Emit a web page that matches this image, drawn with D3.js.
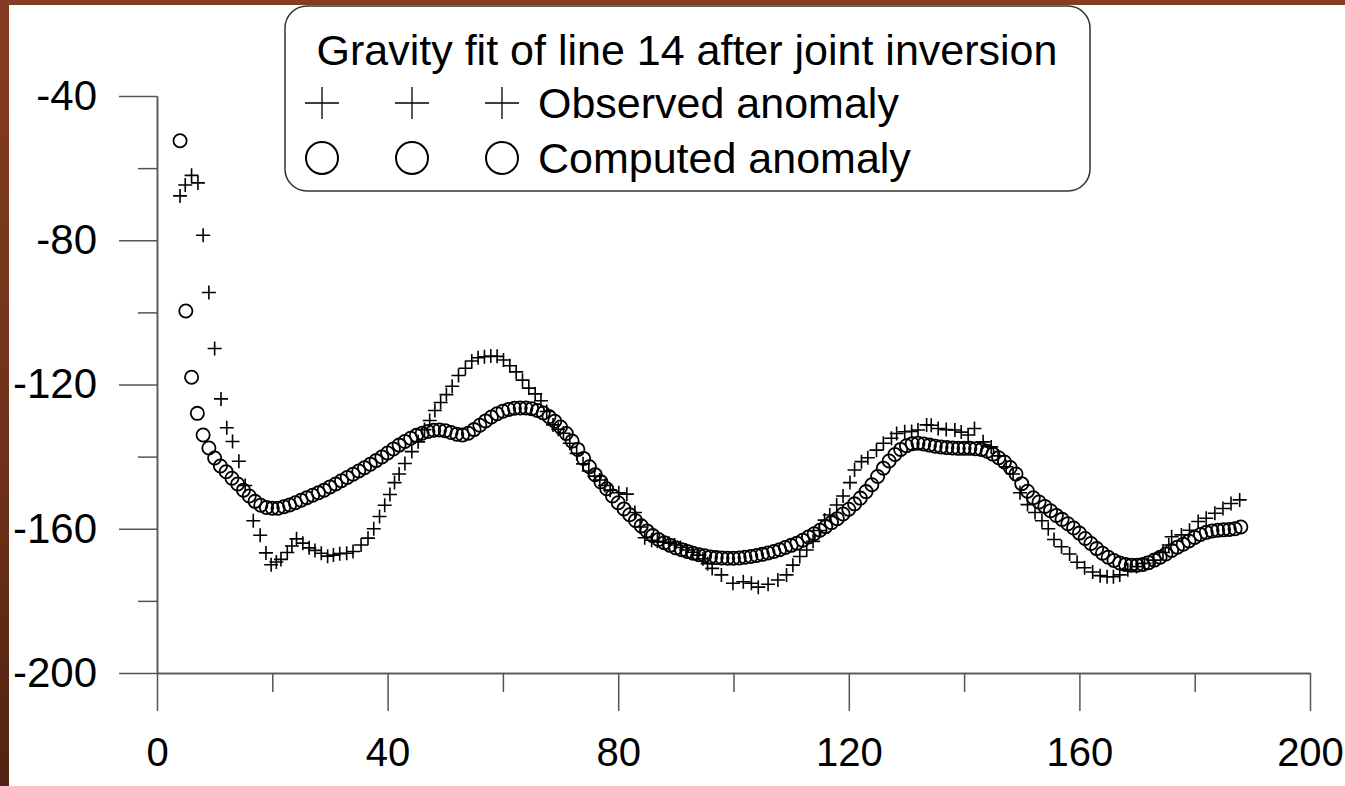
<!DOCTYPE html>
<html>
<head>
<meta charset="utf-8">
<script src="https://cdn.jsdelivr.net/npm/d3@7"></script>
<style>
  body { margin: 0; background: #fff; }
  text { font-family: "Liberation Sans", Arial, sans-serif; }
</style>
</head>
<body>
<script>
const compX = [4,5,6,7,8,9,10,11,12,13,14,15,16,17,18,19,20,21,22,23,24,25,26,27,28,29,30,31,32,33,34,35,36,37,38,39,40,41,42,43,44,45,46,47,48,49,50,51,52,53,54,55,56,57,58,59,60,61,62,63,64,65,66,67,68,69,70,71,72,73,74,75,76,77,78,79,80,81,82,83,84,85,86,87,88,89,90,91,92,93,94,95,96,97,98,99,100,101,102,103,104,105,106,107,108,109,110,111,112,113,114,115,116,117,118,119,120,121,122,123,124,125,126,127,128,129,130,131,132,133,134,135,136,137,138,139,140,141,142,143,144,145,146,147,148,149,150,151,152,153,154,155,156,157,158,159,160,161,162,163,164,165,166,167,168,169,170,171,172,173,174,175,176,177,178,179,180,181,182,183,184,185,186,187,188];
const compY = [-52.4,-99.6,-118,-128,-134,-137.6,-140.4,-142.6,-144.2,-146,-147.6,-149.3,-150.9,-152.4,-153.5,-154.1,-154.3,-154.3,-153.9,-153.4,-152.8,-152.1,-151.4,-150.7,-150,-149.3,-148.4,-147.6,-146.7,-145.8,-144.9,-144,-143.1,-142.1,-141.1,-140.1,-139,-137.9,-136.8,-135.8,-134.9,-134.1,-133.5,-133,-132.7,-132.6,-132.8,-133.3,-133.8,-134,-133.5,-132.5,-131.3,-130.1,-129,-128.1,-127.4,-126.9,-126.6,-126.5,-126.5,-126.7,-127.2,-127.9,-128.9,-130.2,-131.8,-133.6,-135.7,-138,-140.5,-142.8,-145,-147,-148.9,-150.9,-152.8,-154.5,-156.1,-157.7,-159.2,-160.6,-161.9,-163,-163.9,-164.6,-165.3,-165.8,-166.3,-166.8,-167.2,-167.5,-167.8,-168,-168.1,-168.2,-168.2,-168.1,-167.9,-167.7,-167.4,-167.1,-166.7,-166.3,-165.8,-165.2,-164.6,-164,-163.2,-162.3,-161.4,-160.4,-159.4,-158.3,-157.2,-155.9,-154.6,-153.1,-151.5,-149.7,-147.8,-145.5,-143.2,-141.2,-139.4,-138,-137,-136.4,-136.3,-136.5,-136.8,-137.1,-137.3,-137.5,-137.6,-137.7,-137.7,-137.7,-137.8,-138,-138.5,-139.3,-140.3,-141.5,-143,-144.8,-147.5,-149.6,-151.4,-152.6,-153.8,-155,-156.3,-157.4,-158.6,-159.8,-161.2,-162.7,-164.1,-165.5,-166.8,-167.9,-168.8,-169.5,-169.9,-170.1,-170.1,-169.9,-169.4,-168.7,-167.9,-167,-166,-165.1,-164.3,-163.4,-162.4,-161.6,-161,-160.6,-160.4,-160.3,-160.2,-160,-159.5];

const obsX = [4.0,4.9,6.0,7.1,8.0,9.0,10.0,11.1,12.1,13.1,14.2,15.3,16.7,17.9,18.9,19.8,20.7,21.5,22.6,23.4,24.2,25.3,26.4,27.4,28.5,29.6,30.6,31.7,32.9,34.0,35.4,36.6,37.6,38.6,39.5,40.4,41.2,42.0,43.0,44.2,45.3,46.4,47.3,48.2,49.2,50.2,51.2,52.3,53.5,54.6,55.7,56.8,57.9,59.0,60.1,61.2,62.3,63.4,64.5,65.6,66.6,67.6,68.7,69.6,70.5,71.6,72.8,73.9,74.9,75.9,76.8,77.7,78.6,80.1,81.5,82.9,83.8,84.6,85.8,86.8,87.8,88.8,89.8,90.8,91.8,92.8,93.7,94.7,95.5,96.3,97.9,99.9,101.7,103.1,104.3,106.0,107.7,109.2,110.3,111.5,112.7,113.8,114.9,115.8,116.7,117.9,119.0,120.2,121.0,122.2,123.3,124.8,126.0,127.4,128.3,129.7,130.9,132.0,133.5,134.3,135.5,136.9,138.4,139.5,140.7,141.8,143.3,144.7,145.9,147.3,148.5,149.7,151.0,152.3,153.5,154.6,155.6,156.9,158.3,159.6,160.9,162.3,163.6,164.8,165.9,167.0,168.4,169.9,171.3,172.8,174.5,175.5,176.0,177.7,179.1,180.6,182.0,183.5,184.9,186.3,187.8];
const obsY = [-67.7,-64.7,-62.0,-64.1,-78.6,-94.5,-110.0,-124.0,-132.0,-135.8,-141.3,-148.0,-157.8,-161.8,-166.7,-170.0,-169.2,-168.5,-166.6,-164.8,-162.8,-164.0,-165.3,-166.0,-166.8,-167.6,-167.3,-166.9,-166.8,-166.3,-164.5,-162.6,-160.0,-156.6,-153.5,-150.5,-147.2,-144.8,-141.9,-138.6,-135.9,-132.5,-130.0,-127.2,-125.0,-122.8,-120.5,-117.5,-115.5,-113.5,-112.6,-112.3,-112.1,-112.2,-113.2,-114.8,-116.5,-118.8,-121.0,-122.6,-124.5,-127.5,-131.2,-132.4,-133.5,-136.3,-139.1,-142.0,-144.0,-145.4,-146.5,-148.0,-149.3,-150.0,-150.4,-155.5,-159.5,-162.5,-163.2,-163.5,-163.7,-164.0,-164.5,-165.2,-165.9,-166.5,-167.3,-168.3,-169.7,-171.0,-172.8,-175.1,-174.7,-175.1,-176.2,-175.4,-174.2,-172.8,-170.1,-167.7,-165.9,-163.5,-160.5,-157.6,-156.2,-153.4,-150.9,-147.2,-143.7,-141.4,-140.3,-138.2,-136.3,-134.9,-133.6,-133.1,-133.0,-132.6,-131.2,-131.3,-132.2,-132.5,-132.6,-133.2,-134.0,-132.2,-135.9,-137.3,-139.8,-142.8,-144.8,-150.0,-153.3,-155.5,-157.8,-160.0,-163.0,-165.0,-167.0,-169.3,-170.8,-172.0,-173.0,-173.3,-173.3,-172.8,-171.4,-170.5,-169.6,-168.7,-166.6,-164.5,-162.2,-161.7,-160.4,-158.0,-157.1,-155.7,-154.4,-153.0,-152.0];

const xTicks = [0, 40, 80, 120, 160, 200];
const xMinor = [20, 60, 100, 140, 180];
const yTicks = [-40, -80, -120, -160, -200];
const yMinor = [-60, -100, -140, -180];

const legendTitle = "Gravity fit of line 14 after joint inversion";
const seriesNames = ["Observed anomaly", "Computed anomaly"];

const svgWidth = 1345;
const svgHeight = 786;

const svg = d3.select("body")
    .append("svg")
    .attr("width", svgWidth)
    .attr("height", svgHeight);

const defs = svg.append("defs");
const grad = defs.append("linearGradient")
    .attr("id", "brown")
    .attr("x1", 0).attr("y1", 0).attr("x2", 0).attr("y2", 1);
grad.append("stop").attr("offset", "0%").attr("stop-color", "#843d22");
grad.append("stop").attr("offset", "60%").attr("stop-color", "#6e3119");
grad.append("stop").attr("offset", "100%").attr("stop-color", "#4f2312");

svg.append("rect")
    .attr("width", svgWidth)
    .attr("height", svgHeight)
    .attr("fill", "url(#brown)");

svg.append("rect")
    .attr("x", 9)
    .attr("y", 5)
    .attr("width", svgWidth - 9)
    .attr("height", svgHeight - 5)
    .attr("fill", "#ffffff");

const x = d3.scaleLinear().domain([0, 200]).range([157, 1310]);
const y = d3.scaleLinear().domain([-200, -40]).range([673, 96]);

const axisColor = "#555";

function styleAxis(size) {
    return g => {
        g.selectAll("path, line").attr("stroke", axisColor).attr("stroke-width", 1.5);
        g.selectAll("text")
            .attr("fill", "#000")
            .style("font-size", size + "px")
            .style("font-family", "'Liberation Sans', Arial, sans-serif");
    };
}

svg.append("g")
    .attr("transform", `translate(0, ${y(-200)})`)
    .call(d3.axisBottom(x).tickValues(xMinor).tickSize(19).tickSizeOuter(0).tickFormat(""))
    .call(styleAxis(40));

svg.append("g")
    .attr("transform", `translate(0, ${y(-200)})`)
    .call(d3.axisBottom(x).tickValues(xTicks).tickSize(38).tickSizeOuter(0).tickPadding(27).tickFormat(d3.format("d")))
    .call(styleAxis(40));

svg.append("g")
    .attr("transform", `translate(${x(0)}, 0)`)
    .call(d3.axisLeft(y).tickValues(yMinor).tickSize(19).tickSizeOuter(0).tickFormat(""))
    .call(styleAxis(42));

svg.append("g")
    .attr("transform", `translate(${x(0)}, 0)`)
    .call(d3.axisLeft(y).tickValues(yTicks).tickSize(38).tickSizeOuter(0).tickPadding(22).tickFormat(d => d3.format("d")(d).replace("−", "-")))
    .call(styleAxis(42));

const plus = (h, v) => `M${-h},0H${h}M0,${-v}V${v}`;

const observed = obsX.map((d, i) => ({x: d, y: obsY[i]}));
const computed = compX.map((d, i) => ({x: d, y: compY[i]}));

svg.append("g")
    .selectAll("path")
    .data(observed)
    .enter()
    .append("path")
    .attr("transform", d => `translate(${x(d.x)}, ${y(d.y)})`)
    .attr("d", plus(7, 7))
    .attr("stroke", "#000")
    .attr("stroke-width", 1.6)
    .attr("fill", "none");

svg.append("g")
    .selectAll("circle")
    .data(computed)
    .enter()
    .append("circle")
    .attr("cx", d => x(d.x))
    .attr("cy", d => y(d.y))
    .attr("r", 6.6)
    .attr("stroke", "#000")
    .attr("stroke-width", 1.8)
    .attr("fill", "none");

const legend = svg.append("g");

legend.append("rect")
    .attr("x", 285)
    .attr("y", 6)
    .attr("width", 805)
    .attr("height", 185)
    .attr("rx", 22)
    .attr("fill", "#fff")
    .attr("stroke", "#333")
    .attr("stroke-width", 1.5);

legend.append("text")
    .attr("x", 687)
    .attr("y", 65)
    .attr("text-anchor", "middle")
    .style("font-size", "43px")
    .text(legendTitle);

const symX = [322, 412, 502];

symX.forEach(sx => {
    legend.append("path")
        .attr("transform", `translate(${sx}, 103)`)
        .attr("d", plus(17, 16))
        .attr("stroke", "#000")
        .attr("stroke-width", 1.3)
        .attr("fill", "none");
    legend.append("circle")
        .attr("cx", sx)
        .attr("cy", 158)
        .attr("r", 16)
        .attr("stroke", "#000")
        .attr("stroke-width", 2)
        .attr("fill", "none");
});

legend.selectAll(".lbl")
    .data(seriesNames)
    .enter()
    .append("text")
    .attr("class", "lbl")
    .attr("x", 538)
    .attr("y", (d, i) => 118 + i * 55)
    .style("font-size", "43px")
    .text(d => d);
</script>
</body>
</html>
